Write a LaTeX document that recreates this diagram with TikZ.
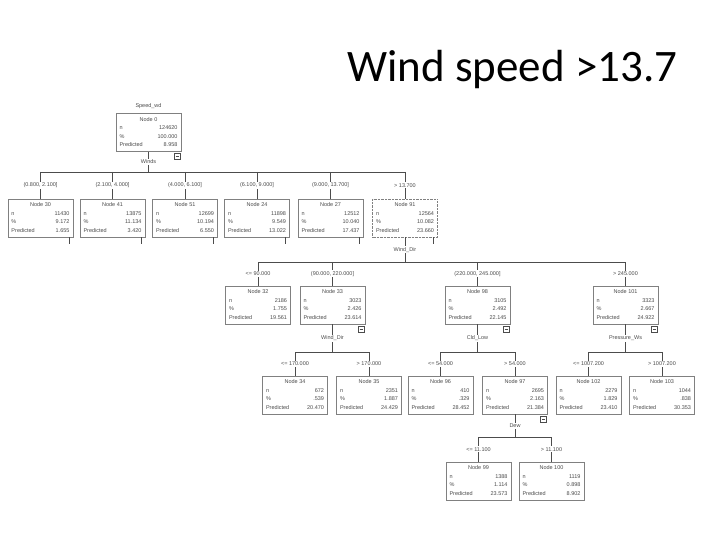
\documentclass[tikz,border=0pt]{standalone}
\usepackage{fontspec}
\setmainfont{Liberation Sans}
\newfontfamily\titlefont{Carlito}
\usetikzlibrary{positioning}

% contents of one tree box
\newcommand\nodetxt[4]{%
  \begin{tabular*}{58pt}{@{}l@{\extracolsep{\fill}}r@{}}
    \multicolumn{2}{c}{Node #1}\\
    n & #2\\
    \% & #3\\
    Predicted & #4
  \end{tabular*}}

\begin{document}
\begin{tikzpicture}[
  x=1pt, y=-1pt,
  tbox/.style={rectangle, draw=black!50, fill=white, text=black!70,
               inner sep=2pt, minimum width=65pt, minimum height=38pt,
               font=\fontsize{5.5}{8.5}\selectfont},
  sel/.style={tbox, densely dotted},
  cond/.style={fill=white, inner sep=1pt, text=black!70,
               font=\fontsize{5.5}{7}\selectfont},
  link/.style={draw=black!70, line width=0.6pt}
]
\useasboundingbox (0,0) rectangle (720,540);

\node[anchor=base west, font=\titlefont\fontsize{45}{50}\selectfont] (title)
  at (344,82) {Wind speed >13.7};

% root
\node[tbox] (n0) at (148.5,132.5) {\nodetxt{0}{124620}{100.000}{8.958}};
\node[cond, above=3pt of n0] (target) {Speed\_wd};

% level 1
\node[tbox] (n30) at (40.5,218)  {\nodetxt{30}{11430}{9.172}{1.655}};
\node[tbox] (n41) at (112.5,218) {\nodetxt{41}{13875}{11.134}{3.420}};
\node[tbox] (n51) at (185,218)   {\nodetxt{51}{12699}{10.194}{6.550}};
\node[tbox] (n24) at (257,218)   {\nodetxt{24}{11898}{9.549}{13.022}};
\node[tbox] (n27) at (330.5,218) {\nodetxt{27}{12512}{10.040}{17.437}};
\node[sel]  (n91) at (405,218)   {\nodetxt{91}{12564}{10.082}{23.660}};

% level 2
\node[tbox] (n32)  at (258,305)   {\nodetxt{32}{2186}{1.755}{19.561}};
\node[tbox] (n33)  at (332.5,305) {\nodetxt{33}{3023}{2.426}{23.614}};
\node[tbox] (n98)  at (477.5,305) {\nodetxt{98}{3105}{2.492}{22.145}};
\node[tbox] (n101) at (625.5,305) {\nodetxt{101}{3323}{2.667}{24.922}};

% level 3
\node[tbox] (n34)  at (295,395)   {\nodetxt{34}{672}{.539}{20.470}};
\node[tbox] (n35)  at (369,395)   {\nodetxt{35}{2351}{1.887}{24.429}};
\node[tbox] (n96)  at (440.5,395) {\nodetxt{96}{410}{.329}{28.452}};
\node[tbox] (n97)  at (515,395)   {\nodetxt{97}{2695}{2.163}{21.384}};
\node[tbox] (n102) at (588.5,395) {\nodetxt{102}{2279}{1.829}{23.410}};
\node[tbox] (n103) at (662,395)   {\nodetxt{103}{1044}{.838}{30.353}};

% level 4
\node[tbox] (n99)  at (478.5,481) {\nodetxt{99}{1388}{1.114}{23.573}};
\node[tbox] (n100) at (551.5,481) {\nodetxt{100}{1119}{0.898}{8.902}};

% splits
\coordinate (b1)  at (148.5,172);
\coordinate (b2)  at (405,262);
\coordinate (b3a) at (332.5,352);
\coordinate (b3b) at (477.5,352);
\coordinate (b3c) at (625.5,352);
\coordinate (b4)  at (515,437);

\draw[link] (n0.south)   -- node[cond] {Winds} (b1);
\draw[link] (n91.south)  -- node[cond] {Wind\_Dir} (b2);
\draw[link] (n33.south)  -- node[cond] {Wind\_Dir} (b3a);
\draw[link] (n98.south)  -- node[cond] {Cld\_Low} (b3b);
\draw[link] (n101.south) -- node[cond] {Pressure\_Ws} (b3c);
\draw[link] (n97.south)  -- node[cond] {Dew} (b4);

\draw[link] (n30.north |- b1)  -- (n91.north |- b1);
\draw[link] (n32.north |- b2)  -- (n101.north |- b2);
\draw[link] (n34.north |- b3a) -- (n35.north |- b3a);
\draw[link] (n96.north |- b3b) -- (n97.north |- b3b);
\draw[link] (n102.north |- b3c) -- (n103.north |- b3c);
\draw[link] (n99.north |- b4)  -- (n100.north |- b4);

\foreach \c/\b/\t in {n30/b1/{(0.800, 2.100]}, n41/b1/{(2.100, 4.000]},
                       n51/b1/{(4.000, 6.100]}, n24/b1/{(6.100, 9.000]},
                       n27/b1/{(9.000, 13.700]}, n91/b1/{> 13.700},
                       n32/b2/{<= 90.000}, n33/b2/{(90.000, 220.000]},
                       n98/b2/{(220.000, 245.000]}, n101/b2/{> 245.000},
                       n34/b3a/{<= 170.000}, n35/b3a/{> 170.000},
                       n96/b3b/{<= 54.000}, n97/b3b/{> 54.000},
                       n102/b3c/{<= 1007.200}, n103/b3c/{> 1007.200},
                       n99/b4/{<= 11.100}, n100/b4/{> 11.100}}
  \draw[link] (\c.north |- \b) -- node[cond] {\t} (\c.north);

% collapse marks
\foreach \c in {n30,n41,n51,n24,n27,n91}
  \draw[link] ([xshift=-4pt]\c.south east) -- ++(0,-7pt);
\foreach \c in {n0,n33,n98,n101,n97}
  \draw[link, fill=white] ([shift={(-7pt,-2pt)}]\c.south east) rectangle ++(6pt,-6pt)
    ([shift={(-5.5pt,-5pt)}]\c.south east) -- ++(3pt,0);
\end{tikzpicture}
\end{document}
